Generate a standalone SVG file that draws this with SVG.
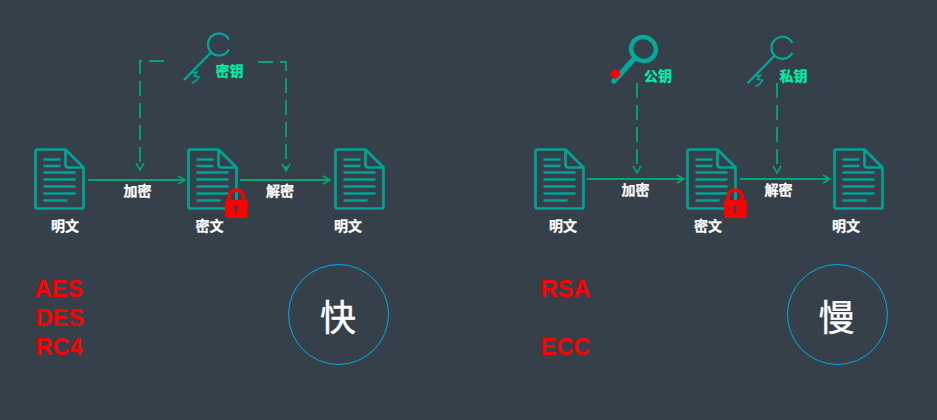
<svg xmlns="http://www.w3.org/2000/svg" width="937" height="420" viewBox="0 0 937 420">
<style>
text{font-family:"Liberation Sans","Noto Sans CJK SC",sans-serif;font-weight:bold;text-anchor:middle}
.w{fill:#fff;stroke:#fff;stroke-width:.25;font-size:14px}
.k{fill:#00f0aa;stroke:#00f0aa;stroke-width:.25;font-size:14px}
.r{fill:#f00;font-size:23.5px;text-anchor:start}
.b{fill:#fff;font-size:36px;font-weight:normal;stroke:#fff;stroke-width:.4}
.c{fill:none;stroke:#00a970;stroke-width:2}
.d{stroke-dasharray:15 7;stroke-width:1.8}
.doc{fill:none;stroke:#00a394;stroke-width:2.7;stroke-linejoin:round}
.ln{fill:none;stroke:#00a394;stroke-width:2.4}
.key{fill:none;stroke:#00ab9b;stroke-width:2.2}
.ring{fill:none;stroke:#00aee0;stroke-width:1}
</style>
<defs>
<g id="docI">
<path class="doc" d="M2,0H30L48,18V57Q48,59 46,59H2Q0,59 0,57V2Q0,0 2,0ZM30,0V15Q30,18 33,18H48"/>
<path class="ln" d="M8,10H25M8,16.500H25M8,23H40M8,30H40M8,37H40M8,44H40M8,51H32"/>
</g>
<g id="lockI">
<path d="M5,14V9A7.100,7.100 0 0 1 19.200,9V14" fill="none" stroke="#f00" stroke-width="3.500"/>
<rect x="1" y="12" width="22.500" height="18" rx="2" fill="#f00"/>
<circle cx="12" cy="19.500" r="2" fill="#36404a"/>
<path d="M12,19V24.500" stroke="#36404a" stroke-width="2" stroke-linecap="round"/>
</g>
<g id="thinKey">
<path class="key" d="M44.800,-40.500A11,11 0 1 0 44.800,-30.500M27.200,-27.700L0,0"/>
<path d="M7,-7L13,-8L10,-4L15,-3L12,1L8,3" fill="none" stroke="#00ab9b" stroke-width="1.500"/>
</g>
<marker id="arr" markerWidth="10" markerHeight="10" refX="8" refY="5" orient="auto" markerUnits="userSpaceOnUse">
<path d="M1,1L8,5L1,9" fill="none" stroke="#00a970" stroke-width="1.600"/>
</marker>
</defs>
<rect width="937" height="420" fill="#36404a"/>
<g id="connectors">
<path class="c" marker-end="url(#arr)" d="M88,180H185"/>
<path class="c" marker-end="url(#arr)" d="M240,180H330"/>
<path class="c" marker-end="url(#arr)" d="M587,179H684"/>
<path class="c" marker-end="url(#arr)" d="M740,179H830"/>
<path class="c d" marker-end="url(#arr)" d="M164,61H140V170"/>
<path class="c d" marker-end="url(#arr)" d="M258,62H286V171"/>
<path class="c d" marker-end="url(#arr)" d="M637,83V173"/>
<path class="c d" marker-end="url(#arr)" d="M777,83V173"/>
</g>
<g id="doc1"><use href="#docI" x="35.500" y="149.500"/><text class="w" x="65" y="231">明文</text></g>
<g id="doc2"><use href="#docI" x="188.500" y="149.500"/><use href="#lockI" x="224" y="188"/><text class="w" x="209.500" y="231">密文</text></g>
<g id="doc3"><use href="#docI" x="335.500" y="149.500"/><text class="w" x="348" y="231">明文</text></g>
<g id="doc4"><use href="#docI" x="535.500" y="149.500"/><text class="w" x="563" y="231">明文</text></g>
<g id="doc5"><use href="#docI" x="687.500" y="149.500"/><use href="#lockI" x="723" y="188"/><text class="w" x="708" y="231">密文</text></g>
<g id="doc6"><use href="#docI" x="834.500" y="149.500"/><text class="w" x="846" y="231">明文</text></g>
<g id="lab"><text class="w" x="137.500" y="196">加密</text><text class="w" x="280" y="196">解密</text><text class="w" x="635.500" y="195">加密</text><text class="w" x="778.500" y="195">解密</text></g>
<g id="key1"><use href="#thinKey" x="184" y="80"/><text class="k" x="229.500" y="76">密钥</text></g>
<g id="key2"><path d="M614,81L634,59" stroke="#00ab9b" stroke-width="5.500" stroke-linecap="round" fill="none"/><ellipse cx="643.500" cy="49" rx="12.500" ry="11.800" fill="none" stroke="#00ab9b" stroke-width="4.400" transform="rotate(25 643.500 49)"/><rect x="611.300" y="70" width="8" height="8" rx="1" fill="#f00" transform="rotate(45 615.300 74)"/><text class="k" x="658" y="80.500">公钥</text></g>
<g id="key3"><use href="#thinKey" x="747.500" y="83.300"/><text class="k" x="793.500" y="80.500">私钥</text></g>
<g id="algo"><text class="r" x="34.500" y="297">AES</text><text class="r" x="35.500" y="326">DES</text><text class="r" x="35.500" y="355">RC4</text><text class="r" x="540.500" y="297">RSA</text><text class="r" x="540.500" y="355">ECC</text></g>
<g id="fast"><circle class="ring" cx="338.500" cy="314.500" r="50"/><text class="b" x="338" y="331">快</text></g>
<g id="slow"><circle class="ring" cx="837.500" cy="314.500" r="50"/><text class="b" x="836.500" y="331">慢</text></g>
</svg>
